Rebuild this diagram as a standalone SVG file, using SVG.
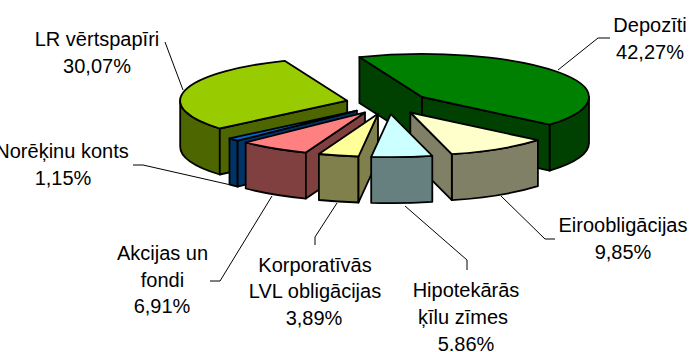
<svg xmlns="http://www.w3.org/2000/svg" width="692" height="352" viewBox="0 0 692 352">
<style>
.s{stroke:#000;stroke-width:1.8;stroke-linejoin:round}
.l{fill:none;stroke:#000;stroke-width:1}
text{font-family:"Liberation Sans",Arial,sans-serif;font-size:20px;fill:#000;text-anchor:middle}
</style>
<rect width="692" height="352" fill="#fff"/>
<g id="slice-depoziti">
<path class="s" fill="#004000" d="M589,97 A167,43 0 0 1 549.6,124.7 L549.6,170.7 A167,43 0 0 0 589,143 Z"/>
<path class="s" fill="#004000" d="M422,97 L359.4,57.1 L359.4,103.1 L422,143 Z"/>
<path class="s" fill="#004000" d="M422,97 L549.6,124.7 L549.6,170.7 L422,143 Z"/>
<path class="s" fill="#008000" d="M422,97 L359.4,57.1 A167,43 0 0 1 549.6,124.7 Z"/>
</g>
<g id="slice-lr">
<path class="s" fill="#4D6600" d="M219.8,128.5 A167,43 0 0 1 180.2,100.7 L180.2,146.7 A167,43 0 0 0 219.8,174.5 Z"/>
<path class="s" fill="#4D6600" d="M347.2,100.7 L219.8,128.5 L219.8,174.5 L347.2,146.7 Z"/>
<path class="s" fill="#99CC00" d="M347.2,100.7 L219.8,128.5 A167,43 0 0 1 284.6,60.8 Z"/>
</g>
<g id="slice-norekinu">
<path class="s" fill="#003366" d="M237.6,140.7 A167,43 0 0 1 229.5,138.4 L229.5,184.4 A167,43 0 0 0 237.6,186.7 Z"/>
<path class="s" fill="#003366" d="M356.9,110.6 L237.6,140.7 L237.6,186.7 L356.9,156.6 Z"/>
<path class="s" fill="#0066CC" d="M356.9,110.6 L237.6,140.7 A167,43 0 0 1 229.5,138.4 Z"/>
</g>
<g id="slice-akcijas">
<path class="s" fill="#804040" d="M305.9,152.6 A167,43 0 0 1 245.7,142.5 L245.7,188.5 A167,43 0 0 0 305.9,198.6 Z"/>
<path class="s" fill="#804040" d="M365,112.4 L305.9,152.6 L305.9,198.6 L365,158.4 Z"/>
<path class="s" fill="#FF8080" d="M365,112.4 L305.9,152.6 A167,43 0 0 1 245.7,142.5 Z"/>
</g>
<g id="slice-korporativas">
<path class="s" fill="#80804D" d="M358.5,156.5 A167,43 0 0 1 318.9,154 L318.9,200 A167,43 0 0 0 358.5,202.5 Z"/>
<path class="s" fill="#80804D" d="M378,113.8 L358.5,156.5 L358.5,202.5 L378,159.8 Z"/>
<path class="s" fill="#FFFF99" d="M378,113.8 L358.5,156.5 A167,43 0 0 1 318.9,154 Z"/>
</g>
<g id="slice-eiro">
<path class="s" fill="#808066" d="M537.9,140.2 A167,43 0 0 1 451.8,154.2 L451.8,200.2 A167,43 0 0 0 537.9,186.2 Z"/>
<path class="s" fill="#808066" d="M410.3,112.5 L451.8,154.2 L451.8,200.2 L410.3,158.5 Z"/>
<path class="s" fill="#FFFFCC" d="M410.3,112.5 L537.9,140.2 A167,43 0 0 1 451.8,154.2 Z"/>
</g>
<g id="slice-hipotekaras">
<path class="s" fill="#668080" d="M432.3,155.8 A167,43 0 0 1 371.2,156.8 L371.2,202.8 A167,43 0 0 0 432.3,201.8 Z"/>
<path class="s" fill="#CCFFFF" d="M390.8,114.1 L432.3,155.8 A167,43 0 0 1 371.2,156.8 Z"/>
</g>
<g id="connectors">
<polyline class="l" points="165,42 183,90"/>
<polyline class="l" points="610,38 598,38 558,70"/>
<polyline class="l" points="133,165 143,165 231,185"/>
<polyline class="l" points="210,281 220,281 272,196"/>
<polyline class="l" points="315,245 315,237 337,203"/>
<polyline class="l" points="467,270 467,260 405,206"/>
<polyline class="l" points="555,239 545,239 501,196"/>
</g>
<g id="labels">
<g id="label-lr"><text x="97" y="46">LR vērtspapīri</text><text x="97" y="73">30,07%</text></g>
<g id="label-depoziti"><text x="650" y="32">Depozīti</text><text x="650" y="59">42,27%</text></g>
<g id="label-norekinu"><text x="62" y="158">Norēķinu konts</text><text x="63" y="185">1,15%</text></g>
<g id="label-akcijas"><text x="162.5" y="260">Akcijas un</text><text x="162.5" y="286.7">fondi</text><text x="162" y="313.3">6,91%</text></g>
<g id="label-korporativas"><text x="315" y="271.7">Korporatīvās</text><text x="315" y="298.3">LVL obligācijas</text><text x="314" y="325">3,89%</text></g>
<g id="label-hipotekaras"><text x="466" y="296.7">Hipotekārās</text><text x="463" y="323.5">ķīlu zīmes</text><text x="466" y="350.5">5.86%</text></g>
<g id="label-eiro"><text x="623" y="232">Eiroobligācijas</text><text x="623" y="259">9,85%</text></g>
</g>
</svg>
